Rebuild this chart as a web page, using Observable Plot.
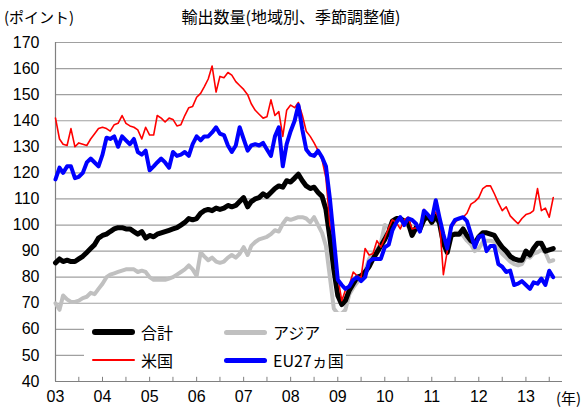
<!DOCTYPE html>
<html><head><meta charset="utf-8">
<script src="https://cdn.jsdelivr.net/npm/d3@7"></script>
<script src="https://cdn.jsdelivr.net/npm/@observablehq/plot@0.6"></script>
<style>
body{margin:0;background:#fff;}
#wrap{position:relative;width:586px;height:413px;}
.t{position:absolute;font-family:"Noto Sans CJK JP",sans-serif;font-size:15px;white-space:nowrap;line-height:1;color:#000;}
#legend{position:absolute;left:84px;top:312px;width:262px;height:62px;background:#fff;}
.sw{position:absolute;border-radius:3px;}
</style></head><body><div id="wrap"></div>
<script>
// Monthly values, Jan 2003 .. Aug 2013
const total = [
85.5,87,86,86.5,86,86,87,88,89.5,91,92.5,95,
96,96.5,97.5,98.5,99,99,98.5,98.5,97.5,96.5,97.5,95,
96,95.5,96.5,97,97.5,98,98.5,99,100,101,102.5,102,
102.5,104.5,105.5,106,105.5,106.5,106,106.5,107.5,107,107.5,109,
110.5,107,109,110,110.5,112,111,112.5,114,115,114.5,117,
116.5,118,119.5,117,115,114,114.5,112.5,111,106,95,83,
73,69.5,71,75,77.5,80,80.5,82,84,87,89.5,92,
94.5,97.5,101.5,102.5,102.5,101.5,101,96,99,98.5,102,103.5,
101,103.5,101,93,89.5,96,96.5,96.5,98.5,96,94,93,
95.5,97,97,96.5,96,93.5,91.5,90,88,87,86.5,86.5,
90,88.5,91,93,93,90,90.5,91];
const asia = [
70,67.5,73,71.5,70.5,70.5,71,72,72.5,74,73.5,75.5,
77.5,80,81,81.5,82,82.5,83,83,83,82,82.5,82,
80,79,79,79,79,79.5,80,81,82,83,84.5,83,
80.5,89.5,88,86.5,87.5,86,85.5,86,87.5,88.5,87.5,89,
91.5,88.5,92,93.5,94.5,95,95.5,96.5,98,97.5,100.5,102.5,
102,102.5,103,103,102.5,101,103,100,97,92,80,68,
66,66,67.5,73.5,76,78,80,82.5,87,89,90.5,93,
100,99,101.5,102,102,101,99.5,98.5,98.5,98,102,102.5,
102,102,100.5,95,92,96,97,97,96,94,92.5,90,
91,93.5,94,94,93.5,91,89,87.5,86,85,84.5,85,
88,87.5,89,89.5,90.5,89.5,86,86.5];
const us = [
141,133,131,130.5,137,130,131.5,131,130.5,133,135,137,
137.5,137,136,138.5,139,142,139,138,137.5,136.5,133,137.5,
134.5,134.5,142,141,139.5,141,140.5,138,138.5,142,145,145.5,
149,150.5,153,156,161,151,157,156.5,158.5,157.5,155,153.5,
152,150,146.5,144,142.5,141,141.5,148,142,143.5,134,144,
146,145,147,142,136,134,131.5,128.5,125,118,100,95,
80,71,75,77,82,80.5,80,91,88.5,89,94,91.5,
95,99,102,101,98.5,102,103,98.5,99,98,106,103.5,
103,105,102,81,90,99,101,102.5,103,104.5,108,109,
110.5,114,115,115,112,108.5,105.5,107,103.5,102,100.5,102.5,
104,104.5,105.5,114,105.5,106.5,103,110.5];
const eu = [
117.5,122,120,122.5,122.5,118,118.5,120,124,125.5,124,122.5,
127,133.5,133,134,130,134,132.5,131,133,128,127,128.5,
121,122.5,124,125.5,124,122,128,126.5,127,128,126.5,131,
134,132.5,134,134,135.5,137.5,135,134.5,130.5,128,130.5,137.5,
133,128.5,130.5,131,130.5,131.5,129,126.5,134,137.5,122.5,131,
136,140,146,136.5,129,127,126.5,128.5,126,122.5,110,95,
79,77,75.5,76.5,79,80,78.5,80,86,87,87,87,
91.5,92.5,98,101,103,100,102.5,102,100.5,97.5,105.5,104,
102,109.5,103,96.5,91,99.5,102,102.5,103,101.5,96.5,91.5,
95.5,96,90,92,92,85,84,82,82.5,77,77.5,78.5,
77,75.5,78,77.5,79.5,77,82.5,80];
const yTicks = [40,50,60,70,80,90,100,110,120,130,140,150,160,170];
const yearLabels = ["03","04","05","06","07","08","09","10","11","12","13"];
const seriesNames = ["合計","アジア","米国","EU27ヵ国"];

const dates = total.map((_, i) => new Date(Date.UTC(2003, i, 1)));
const rowsOf = arr => arr.map((v, i) => ({date: dates[i], value: v}));
const yearDates = yearLabels.map(s => new Date(Date.UTC(2000 + +s, 0, 1)));
const halfYears = d3.range(0, 22).map(i => new Date(Date.UTC(2003, i * 6, 1)));
const x0 = new Date(Date.UTC(2003, 0, 1)), x1 = new Date(Date.UTC(2013, 9, 12));

const chart = Plot.plot({
  width: 586, height: 413,
  marginTop: 42, marginBottom: 32, marginLeft: 55, marginRight: 24,
  style: {fontFamily: "'Liberation Sans', Arial, sans-serif", fontSize: "16px", color: "#000", background: "#fff"},
  x: {type: "utc", domain: [x0, x1], label: null},
  y: {domain: [40, 170], label: null},
  marks: [
    Plot.gridY(yTicks, {stroke: "#a0a0a0", strokeOpacity: 1, strokeWidth: 1.2}),
    Plot.axisY(yTicks, {tickSize: 0, tickPadding: 16, fontSize: 16, label: null}),
    Plot.axisX(yearDates, {tickSize: 0, tickPadding: 9, fontSize: 16, label: null, tickFormat: (d, i) => yearLabels[i]}),
    Plot.ruleX(halfYears, {y1: 40, y2: 41.6, stroke: "#808080"}),
    Plot.ruleX([x0], {stroke: "#808080", strokeWidth: 1.2}),
    Plot.ruleY([40], {stroke: "#808080", strokeWidth: 1.2}),
    Plot.lineY(rowsOf(asia), {x: "date", y: "value", stroke: "#c0c0c0", strokeWidth: 4}),
    Plot.lineY(rowsOf(total), {x: "date", y: "value", stroke: "#000", strokeWidth: 5}),
    Plot.lineY(rowsOf(us), {x: "date", y: "value", stroke: "#ff0000", strokeWidth: 1.6}),
    Plot.lineY(rowsOf(eu), {x: "date", y: "value", stroke: "#0000ff", strokeWidth: 4})
  ]
});
const wrap = document.getElementById("wrap");
wrap.appendChild(chart);

function addText(txt, left, top, extra) {
  const d = document.createElement("div");
  d.className = "t"; d.textContent = txt;
  d.style.left = left + "px"; d.style.top = top + "px";
  if (extra) Object.assign(d.style, extra);
  wrap.appendChild(d);
  return d;
}
addText("(ポイント)", 4, 9);
addText("輸出数量(地域別、季節調整値)", 291, 8, {transform: "translateX(-50%)", fontSize: "16px"});
addText("(年)", 556, 390);

const lg = document.createElement("div");
lg.id = "legend";
wrap.appendChild(lg);
const items = [
  {name: seriesNames[0], color: "#000", w: 6, x: 8, y: 20},
  {name: seriesNames[1], color: "#c0c0c0", w: 5, x: 140, y: 20},
  {name: seriesNames[2], color: "#ff0000", w: 2, x: 8, y: 48},
  {name: seriesNames[3], color: "#0000ff", w: 5, x: 140, y: 48}
];
for (const it of items) {
  const s = document.createElement("div");
  s.className = "sw";
  Object.assign(s.style, {left: it.x + "px", top: (it.y - it.w / 2) + "px", width: "43px", height: it.w + "px", background: it.color});
  lg.appendChild(s);
  const t = document.createElement("div");
  t.className = "t"; t.textContent = it.name;
  Object.assign(t.style, {left: (it.x + 49) + "px", top: (it.y - 8) + "px", fontSize: "16px"});
  lg.appendChild(t);
}
</script></body></html>
